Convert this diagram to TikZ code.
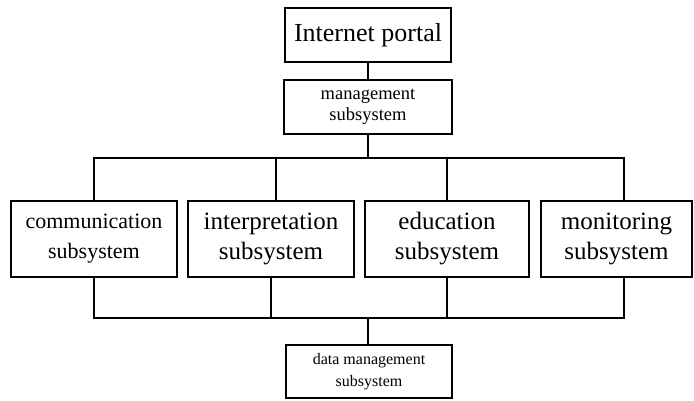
\documentclass[tikz,border=0pt]{standalone}
\usepackage{fontspec}
\setmainfont{Liberation Serif}
\usetikzlibrary{positioning,calc}

\tikzset{
  box/.style={draw, line width=1.5pt, align=center, inner sep=0pt},
  link/.style={line width=1.5pt},
}

\begin{document}
\begin{tikzpicture}[x=1pt,y=-1pt]
\useasboundingbox (0,0) rectangle (694,400);

% top of the tree
\node[box, minimum width=166pt, minimum height=54pt,
      font=\fontsize{26}{30}\selectfont] (portal) at (368,35) {Internet portal};
\node[box, minimum width=168pt, minimum height=54pt,
      font=\fontsize{18.5}{21}\selectfont] (mgmt) at (368,107) {management\\subsystem};

% subsystems
\node[box, minimum width=166pt, minimum height=76pt,
      font=\fontsize{22}{30}\selectfont] (comm) at (94,239) {communication\\subsystem};
\node[box, minimum width=166pt, minimum height=76pt,
      font=\fontsize{25}{30}\selectfont] (interp) at (271,239) {interpretation\\subsystem};
\node[box, minimum width=164pt, minimum height=76pt,
      font=\fontsize{25}{30}\selectfont] (edu) at (447,239) {education\\subsystem};
\node[box, minimum width=151pt, minimum height=76pt,
      font=\fontsize{25}{30}\selectfont] (mon) at (616.5,239) {monitoring\\subsystem};

% bottom
\node[box, minimum width=166pt, minimum height=53pt,
      font=\fontsize{16}{22}\selectfont] (data) at (369,371.5) {data management\\subsystem};

% buses
\coordinate (topbus) at (368,158);
\coordinate (topleft) at (94,158);
\coordinate (topright) at (624,158);
\coordinate (topinterp) at (276,158);
\coordinate (lowbus) at (368,318);
\coordinate (lowleft) at (94,318);
\coordinate (lowright) at (624,318);

\draw[link] (portal) -- (mgmt);
\draw[link] (mgmt) -- (topbus);
\draw[link] (comm.north) -- (topleft) -- (topright) -- (topright |- mon.north);
\draw[link] (topinterp) -- (topinterp |- interp.north);
\draw[link] (edu.north) -- (edu.north |- topbus);

\draw[link] (comm.south) -- (lowleft) -- (lowright) -- (lowright |- mon.south);
\draw[link] (interp.south) -- (interp.south |- lowbus);
\draw[link] (edu.south) -- (edu.south |- lowbus);
\draw[link] (lowbus) -- (lowbus |- data.north);
\end{tikzpicture}
\end{document}
